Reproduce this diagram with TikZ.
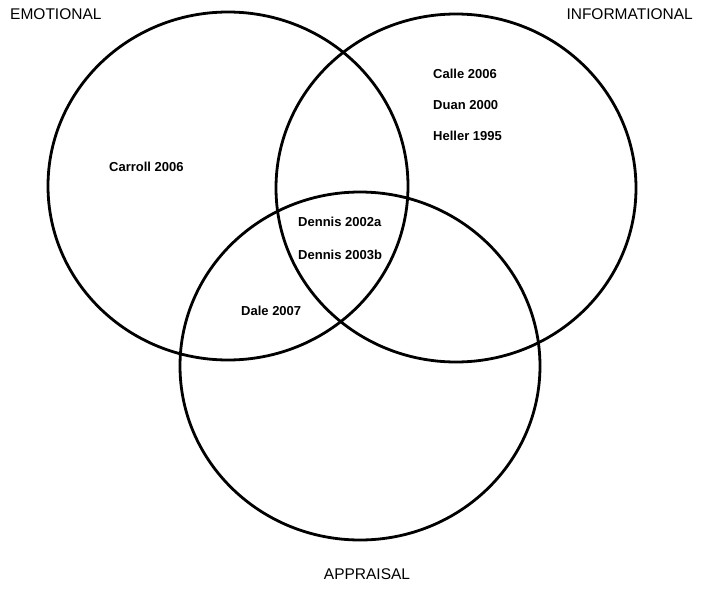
\documentclass[tikz,border=0pt]{standalone}
\usepackage{fontspec}
\setmainfont{Liberation Sans}
\begin{document}
\begin{tikzpicture}[x=1pt,y=-1pt,
  setring/.style={draw=black,line width=2.8pt},
  title/.style={font=\fontsize{15.5}{18}\selectfont,inner sep=0pt},
  cite/.style={font=\bfseries\fontsize{13}{15}\selectfont,anchor=west,inner sep=0pt}]
\useasboundingbox[fill=white] (0,0) rectangle (713,589);
\draw[setring] (228,186) ellipse [x radius=180,y radius=174];
\draw[setring] (456,188) ellipse [x radius=180,y radius=174];
\draw[setring] (360,366) ellipse [x radius=180,y radius=174];
\node[title,anchor=west] (emo) at (10,14) {EMOTIONAL};
\node[title,anchor=east] (inf) at (693,14) {INFORMATIONAL};
\node[title] (app) at (367,574) {APPRAISAL};
\node[cite] (calle) at (433,74) {Calle 2006};
\node[cite] (duan) at (433,105) {Duan 2000};
\node[cite] (heller) at (433,136) {Heller 1995};
\node[cite] (carroll) at (109,167) {Carroll 2006};
\node[cite] (d2a) at (298,222) {Dennis 2002a};
\node[cite] (d3b) at (298,255) {Dennis 2003b};
\node[cite] (dale) at (241,311) {Dale 2007};
\end{tikzpicture}
\end{document}
